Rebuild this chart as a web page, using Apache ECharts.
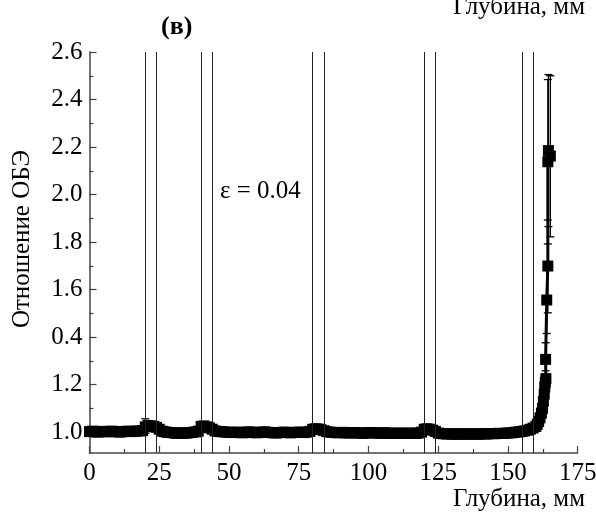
<!DOCTYPE html>
<html>
<head>
<meta charset="utf-8">
<script src="https://cdn.jsdelivr.net/npm/echarts@6/dist/echarts.min.js"></script>
<style>
  html, body { margin: 0; padding: 0; background: #fff; }
  #chart { width: 596px; height: 515px; }
</style>
</head>
<body>
<div id="chart"></div>
<script>
// Depth along the phantom, mm
const depthMm = [
  0, 1, 2, 3, 4, 5, 6, 7, 8, 9, 10, 11, 12, 13, 14, 15, 16, 17, 18, 19,
  20, 21, 22, 23, 24,
  25, 26, 27, 28, 29, 30, 31, 32, 33, 34, 35, 36, 37, 38, 39,
  40, 41, 42, 43, 44,
  45, 46, 47, 48, 49, 50, 51, 52, 53, 54, 55, 56, 57, 58, 59, 60, 61, 62, 63, 64,
  65, 66, 67, 68, 69, 70, 71, 72, 73, 74, 75, 76, 77, 78, 79,
  80, 81, 82, 83, 84,
  85, 86, 87, 88, 89, 90, 91, 92, 93, 94, 95, 96, 97, 98, 99, 100, 101, 102, 103, 104,
  105, 106, 107, 108, 109, 110, 111, 112, 113, 114, 115, 116, 117, 118, 119,
  120, 121, 122, 123, 124,
  125, 126, 127, 128, 129, 130, 131, 132, 133, 134, 135, 136, 137, 138, 139, 140,
  141, 142, 143, 144, 145, 146, 147, 148, 149, 150, 151, 152, 153, 154, 155,
  156, 157, 158, 159, 160,
  160.5, 161, 161.5, 162, 162.4, 162.7, 163, 163.2, 163.4, 163.6,
  163.5, 163.9, 164.3, 164.3, 164.5, 165.2
];

// RBE ratio at each depth
const rbeRatio = [
  1.002, 1.004, 1.001, 1.000, 1.003, 1.002, 1.001, 1.003, 1.004, 1.002,
  1.001, 1.000, 1.002, 1.003, 1.004, 1.002, 1.003, 1.004, 1.005, 1.006,
  1.022, 1.028, 1.026, 1.024, 1.020,
  1.012, 1.004, 1.001, 0.999, 0.998, 0.997, 0.995, 0.996, 0.997, 0.995,
  0.996, 0.998, 0.999, 1.001, 1.004,
  1.024, 1.026, 1.022, 1.018, 1.012,
  1.005, 1.003, 1.002, 1.001, 1.000, 0.999, 0.998, 0.999, 1.000, 0.998,
  0.997, 0.999, 1.001, 1.000, 0.998, 0.997, 0.999, 1.000, 1.001, 0.999,
  0.998, 0.997, 0.996, 0.998, 0.999, 1.000, 0.998, 0.997, 0.998, 0.999,
  1.000, 0.999, 0.998, 1.000, 1.003,
  1.012, 1.014, 1.013, 1.010, 1.006,
  1.002, 1.000, 0.999, 0.998, 0.997, 0.998, 0.999, 0.997, 0.996, 0.997,
  0.998, 0.997, 0.996, 0.995, 0.996, 0.997, 0.998, 0.997, 0.996, 0.995,
  0.996, 0.997, 0.996, 0.995, 0.994, 0.995, 0.996, 0.995, 0.994, 0.995,
  0.996, 0.995, 0.994, 0.996, 1.000,
  1.012, 1.014, 1.012, 1.008, 1.003,
  0.996, 0.994, 0.993, 0.992, 0.993, 0.992, 0.991, 0.992, 0.993, 0.992,
  0.991, 0.992, 0.993, 0.992, 0.991, 0.992, 0.993, 0.992, 0.993, 0.994,
  0.993, 0.994, 0.995, 0.994, 0.995, 0.996, 0.997, 0.998, 1.000, 1.001, 1.003,
  1.005, 1.008, 1.012, 1.017, 1.024,
  1.033, 1.045, 1.060, 1.080, 1.100, 1.130, 1.160, 1.190, 1.210, 1.225,
  1.306, 1.556, 1.699, 2.138, 2.185, 2.162
];

// Error bars: depth, lower and upper bound
const errDepth = [20, 163.5, 163.9, 164.3, 164.3, 164.5, 165.2];
const errLow   = [0.995, 1.258, 1.415, 1.502, 1.792, 1.865, 1.822];
const errHigh  = [1.056, 1.376, 1.700, 1.893, 2.484, 2.505, 2.500];

// Boundaries of the layers, mm
const layerBounds = [20, 24, 40, 44, 80, 84, 120, 124, 155, 159];

// Axis ticks and labels
const xTicks = [0, 25, 50, 75, 100, 125, 150, 175];
const yTicks = [1.0, 1.2, 1.4, 1.6, 1.8, 2.0, 2.2, 2.4, 2.6];
const yTickLabels = ['1.0', '1.2', '0.4', '1.6', '1.8', '2.0', '2.2', '2.4', '2.6'];
const yMinorTicks = [1.1, 1.3, 1.5, 1.7, 1.9, 2.1, 2.3, 2.5];

const FONT = 'Liberation Serif';
const FS = 25;
const AXIS_COLOR = '#444';

const points = depthMm.map((d, i) => [d, rbeRatio[i]]);
const errData = errDepth.map((d, i) => [d, errLow[i], errHigh[i]]);

const chart = echarts.init(document.getElementById('chart'), null, { renderer: 'canvas' });

const textStyle = (extra) => Object.assign({ fill: '#000', fontFamily: FONT, fontSize: FS }, extra);

chart.setOption({
  animation: false,
  backgroundColor: '#fff',
  textStyle: { fontFamily: FONT },
  grid: { left: 89.5, right: 18.3, top: 52, bottom: 62, outerBoundsMode: 'none', containLabel: false },
  xAxis: {
    type: 'value',
    min: 0,
    max: 175,
    interval: 25,
    axisLine: { show: true, lineStyle: { color: AXIS_COLOR, width: 1.5 } },
    axisTick: { show: true, inside: true, length: 7, lineStyle: { color: AXIS_COLOR, width: 1.2 } },
    minorTick: { show: true, splitNumber: 2, length: 4, lineStyle: { color: AXIS_COLOR, width: 1.2 } },
    splitLine: { show: false },
    axisLabel: {
      color: '#000', fontFamily: FONT, fontSize: FS, margin: 8,
      customValues: xTicks,
      formatter: v => String(v)
    }
  },
  yAxis: [
    {
      type: 'value',
      min: 0.912,
      max: 2.6,
      axisLine: { show: true, lineStyle: { color: AXIS_COLOR, width: 1.5 } },
      axisTick: { show: true, inside: true, length: 7, customValues: yTicks, lineStyle: { color: AXIS_COLOR, width: 1.2 } },
      splitLine: { show: false },
      axisLabel: {
        color: '#000', fontFamily: FONT, fontSize: FS, margin: 7,
        customValues: yTicks,
        formatter: v => {
          const i = yTicks.findIndex(t => Math.abs(t - v) < 1e-6);
          return i >= 0 ? yTickLabels[i] : '';
        }
      }
    },
    {
      type: 'value',
      min: 0.912,
      max: 2.6,
      position: 'left',
      axisLine: { show: false },
      axisTick: { show: true, inside: true, length: 4, customValues: yMinorTicks, lineStyle: { color: AXIS_COLOR, width: 1.2 } },
      axisLabel: { show: false },
      splitLine: { show: false }
    }
  ],
  graphic: [
    {
      type: 'text', x: 22, y: 239, rotation: Math.PI / 2,
      style: textStyle({ text: 'Отношение ОБЭ', textAlign: 'center', textVerticalAlign: 'middle' })
    },
    {
      type: 'text', left: 161, top: 14,
      style: textStyle({ text: '(в)', fontWeight: 'bold', fontSize: 26 })
    },
    {
      type: 'text', left: 220, top: 179,
      style: textStyle({ text: 'ε = 0.04' })
    },
    {
      type: 'text', right: 11, top: -5,
      style: textStyle({ text: 'Глубина, мм' })
    },
    {
      type: 'text', right: 11, top: 487,
      style: textStyle({ text: 'Глубина, мм' })
    }
  ],
  series: [
    {
      type: 'line',
      data: points,
      symbol: 'rect',
      symbolSize: 11,
      showSymbol: true,
      itemStyle: { color: '#000' },
      lineStyle: { color: '#000', width: 3 },
      z: 3,
      markLine: {
        silent: true,
        symbol: 'none',
        label: { show: false },
        lineStyle: { color: '#222', width: 1, type: 'solid' },
        data: layerBounds.map(x => ({ xAxis: x }))
      }
    },
    {
      type: 'custom',
      data: errData,
      z: 2,
      renderItem: (params, api) => {
        const x = api.value(0);
        const lo = api.coord([x, api.value(1)]);
        const hi = api.coord([x, api.value(2)]);
        const hw = 4;
        const style = { stroke: '#000', lineWidth: 1.3 };
        return {
          type: 'group',
          children: [
            { type: 'line', shape: { x1: lo[0], y1: lo[1], x2: hi[0], y2: hi[1] }, style },
            { type: 'line', shape: { x1: lo[0] - hw, y1: lo[1], x2: lo[0] + hw, y2: lo[1] }, style },
            { type: 'line', shape: { x1: hi[0] - hw, y1: hi[1], x2: hi[0] + hw, y2: hi[1] }, style }
          ]
        };
      }
    }
  ]
});
</script>
</body>
</html>
